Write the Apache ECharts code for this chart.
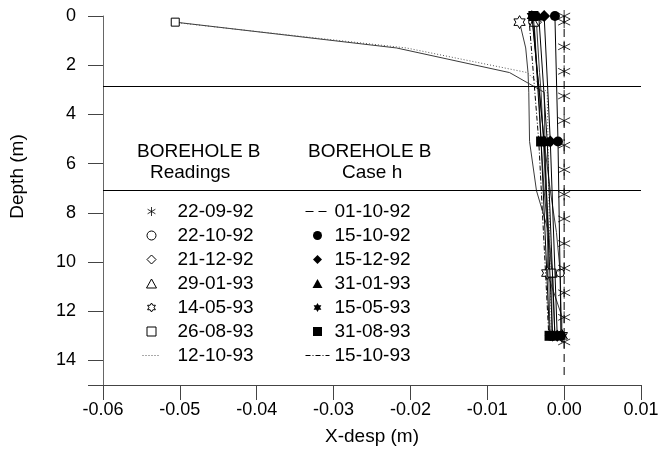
<!DOCTYPE html>
<html>
<head>
<meta charset="utf-8">
<script src="https://cdn.jsdelivr.net/npm/echarts@6/dist/echarts.min.js"></script>
<style>
html, body { margin: 0; padding: 0; background: #fff; }
#chart { width: 659px; height: 453px; }
</style>
</head>
<body>
<div id="chart"></div>
<script>
// Horizontal displacement profiles in borehole B: inclinometer readings and model case h

const layerBoundaries = [2.85, 7.1];

// Readings: depths of the profile nodes, and depths where the reading marker is drawn
const readingDepths = [0.25, 1.3, 2.3, 3.1, 5.1, 7.1, 8.8, 10.45, 12.2, 13.0];
const readingMarkerDepths = [0.25, 10.45, 13.0];

// Reference reading 22-09-92 (zero displacement)
const baseDepths = [0, 0.25, 1.25, 2.25, 3.25, 4.25, 5.25, 6.25, 7.25, 8.25, 9.25, 10.25, 11.25, 12.25, 13.25];
const baseDisp = [0, 0, 0, 0, 0, 0, 0, 0, 0, 0, 0, 0, 0, 0, 0];

const r221092 = [-0.0041, -0.0038, -0.0035, -0.0032, -0.0026, -0.0018, -0.0010, -0.0005, -0.0004, -0.0004];
const r211292 = [-0.0036, -0.0034, -0.0032, -0.0030, -0.0027, -0.0024, -0.0022, -0.0020, -0.0019, -0.0018];
const r290193 = [-0.0039, -0.0037, -0.0035, -0.0033, -0.0030, -0.0026, -0.0021, -0.0015, -0.0013, -0.0012];
const r140593 = [-0.0058, -0.0050, -0.0047, -0.0046, -0.0045, -0.0036, -0.0020, -0.0022, -0.0003, -0.0003];
const r260893 = [-0.0506, -0.0218, -0.0071, -0.0026, -0.0025, -0.0023, -0.0020, -0.0016, -0.0016, -0.0016];
const r121093 = [-0.0510, -0.0205, -0.0048, -0.0022, -0.0021, -0.0020, -0.0019, -0.0018, -0.0017, -0.0017];

// Case h: computed profiles
const caseDepths = [0, 5.1, 13.0];
const h151092 = [-0.0012, -0.0008, -0.0004];
const h151292 = [-0.0026, -0.0018, -0.0009];
const h310193 = [-0.0033, -0.0022, -0.0012];
const h150593 = [-0.0042, -0.0026, -0.0015];
const h310893 = [-0.0040, -0.0030, -0.0019];
const h151093 = [-0.0046, -0.0033, -0.0020];
const h011092Depths = [0, 14.7];
const h011092 = [0, 0];

// Marker shapes as paths so they keep their proportions in the legend too
const ASTERISK = 'path://M0,-10L0,10M-8.66,-5L8.66,5M-8.66,5L8.66,-5';
const HEXAGRAM = 'path://M0,-1000L289,-500L866,-500L577,0L866,500L289,500L0,1000L-289,500L-866,500L-577,0L-866,-500L-289,-500Z';
const SQUARE = 'path://M0,0L10,0L10,10L0,10Z';
const DIAMOND = 'path://M5,0L10,5L5,10L0,5Z';
const TRIANGLE = 'path://M5,0L10,9L0,9Z';

const FONT = 'Liberation Sans, Arial, sans-serif';
const openStyle = { color: '#fff', borderColor: '#000', borderWidth: 1 };
const filledStyle = { color: '#000', borderColor: '#000', borderWidth: 0 };
const noMarkStyle = { color: 'rgba(0,0,0,0)', borderColor: 'rgba(0,0,0,0)', borderWidth: 0 };

function readingSeries(name, disp, symbol, size, lineStyle) {
  return {
    name: name,
    type: 'line',
    showAllSymbol: true,
    symbol: symbol || 'none',
    symbolSize: size || 8,
    symbolKeepAspect: true,
    itemStyle: symbol ? openStyle : noMarkStyle,
    lineStyle: Object.assign({ color: '#3a3a3a', width: 1 }, lineStyle || {}),
    z: 3,
    data: readingDepths.map(function (d, i) {
      return {
        value: [disp[i], d],
        symbol: symbol && readingMarkerDepths.indexOf(d) >= 0 ? symbol : 'none'
      };
    })
  };
}

function caseSeries(name, depths, disp, symbol, size, lineStyle) {
  return {
    name: name,
    type: 'line',
    showAllSymbol: true,
    symbol: symbol || 'none',
    symbolSize: size || 9,
    symbolKeepAspect: true,
    itemStyle: symbol ? filledStyle : noMarkStyle,
    lineStyle: Object.assign({ color: '#000', width: 1 }, lineStyle || {}),
    z: 4,
    data: depths.map(function (d, i) { return [disp[i], d]; })
  };
}

const series = [
  {
    name: '22-09-92',
    type: 'scatter',
    symbol: ASTERISK,
    symbolSize: [12, 12],
    itemStyle: { color: 'rgba(0,0,0,0)', borderColor: '#000', borderWidth: 1 },
    z: 5,
    data: baseDepths.map(function (d, i) { return [baseDisp[i], d]; })
  },
  readingSeries('22-10-92', r221092, 'circle', 8),
  readingSeries('21-12-92', r211292, DIAMOND, 10),
  readingSeries('29-01-93', r290193, TRIANGLE, 9),
  readingSeries('14-05-93', r140593, HEXAGRAM, 13),
  readingSeries('26-08-93', r260893, SQUARE, 8),
  readingSeries('12-10-93', r121093, null, 0, { type: [1, 2], color: '#555' }),
  Object.assign(caseSeries('01-10-92', h011092Depths, h011092, null, 0, { type: [8, 5] }), {
    markLine: {
      silent: true,
      symbol: ['none', 'none'],
      label: { show: false },
      lineStyle: { color: '#000', width: 1, type: 'solid' },
      data: layerBoundaries.map(function (d) { return { yAxis: d }; })
    }
  }),
  caseSeries('15-10-92', caseDepths, h151092, 'circle', 10),
  caseSeries('15-12-92', caseDepths, h151292, DIAMOND, 12),
  caseSeries('31-01-93', caseDepths, h310193, TRIANGLE, 10),
  caseSeries('15-05-93', caseDepths, h150593, HEXAGRAM, 12),
  caseSeries('31-08-93', caseDepths, h310893, SQUARE, 10),
  caseSeries('15-10-93', caseDepths, h151093, null, 0, { type: [5, 2, 1, 2] })
];

const legendText = { fontSize: 19, fontFamily: FONT, color: '#000' };

const option = {
  animation: false,
  backgroundColor: '#fff',
  grid: { left: 103, right: 18, top: 16, bottom: 68, outerBoundsMode: 'none', containLabel: false },
  xAxis: {
    type: 'value',
    position: 'bottom',
    min: -0.06,
    max: 0.01,
    interval: 0.01,
    name: 'X-desp (m)',
    nameLocation: 'middle',
    nameGap: 42,
    nameTextStyle: { fontSize: 19, fontFamily: FONT, color: '#000' },
    axisLine: { show: true, onZero: false, lineStyle: { color: '#444', width: 1 } },
    axisTick: { show: true, inside: false, length: 15, lineStyle: { color: '#444' } },
    axisLabel: {
      fontSize: 18, fontFamily: FONT, color: '#000', margin: 16,
      showMinLabel: true, showMaxLabel: true,
      formatter: function (v) { return Math.abs(v) < 1e-9 ? '0.00' : v.toFixed(2); }
    },
    splitLine: { show: false }
  },
  yAxis: {
    type: 'value',
    inverse: true,
    min: 0,
    max: 15,
    interval: 2,
    name: 'Depth (m)',
    nameLocation: 'middle',
    nameGap: 76,
    nameRotate: 90,
    nameTextStyle: { fontSize: 19, fontFamily: FONT, color: '#000', padding: [0, 0, 0, 48] },
    axisLine: { show: true, onZero: false, lineStyle: { color: '#666', width: 1 } },
    axisTick: { show: true, inside: false, length: 15, lineStyle: { color: '#444' } },
    axisLabel: {
      fontSize: 18, fontFamily: FONT, color: '#000', margin: 27,
      formatter: function (v) { return v === 15 ? '' : String(v); }
    },
    splitLine: { show: false }
  },
  legend: [
    {
      orient: 'vertical',
      left: 142,
      top: 202,
      padding: 0,
      itemWidth: 18,
      itemHeight: 9,
      itemGap: 5,
      symbolKeepAspect: true,
      selectedMode: false,
      itemStyle: { borderWidth: 1 },
      lineStyle: { width: 1 },
      textStyle: Object.assign({ padding: [0, 0, 0, 12] }, legendText),
      data: [
        { name: '22-09-92', icon: ASTERISK },
        { name: '22-10-92', icon: 'circle' },
        { name: '21-12-92', icon: DIAMOND },
        { name: '29-01-93', icon: TRIANGLE },
        { name: '14-05-93', icon: HEXAGRAM },
        { name: '26-08-93', icon: SQUARE },
        { name: '12-10-93' }
      ]
    },
    {
      orient: 'vertical',
      left: 305,
      top: 202,
      padding: 0,
      itemWidth: 24,
      itemHeight: 9,
      itemGap: 5,
      symbolKeepAspect: true,
      selectedMode: false,
      itemStyle: { borderWidth: 0 },
      lineStyle: { width: 1 },
      textStyle: legendText,
      data: [
        { name: '01-10-92' },
        { name: '15-10-92', icon: 'circle' },
        { name: '15-12-92', icon: DIAMOND },
        { name: '31-01-93', icon: TRIANGLE },
        { name: '15-05-93', icon: HEXAGRAM },
        { name: '31-08-93', icon: SQUARE },
        { name: '15-10-93' }
      ]
    }
  ],
  graphic: [
    { type: 'text', left: 137, top: 142, style: { text: 'BOREHOLE B', font: '19px ' + FONT, fill: '#000' } },
    { type: 'text', left: 150, top: 163, style: { text: 'Readings', font: '19px ' + FONT, fill: '#000' } },
    { type: 'text', left: 308, top: 142, style: { text: 'BOREHOLE B', font: '19px ' + FONT, fill: '#000' } },
    { type: 'text', left: 342, top: 163, style: { text: 'Case h', font: '19px ' + FONT, fill: '#000' } }
  ],
  series: series
};

const chart = echarts.init(document.getElementById('chart'), null, { renderer: 'canvas' });
chart.setOption(option);
</script>
</body>
</html>
